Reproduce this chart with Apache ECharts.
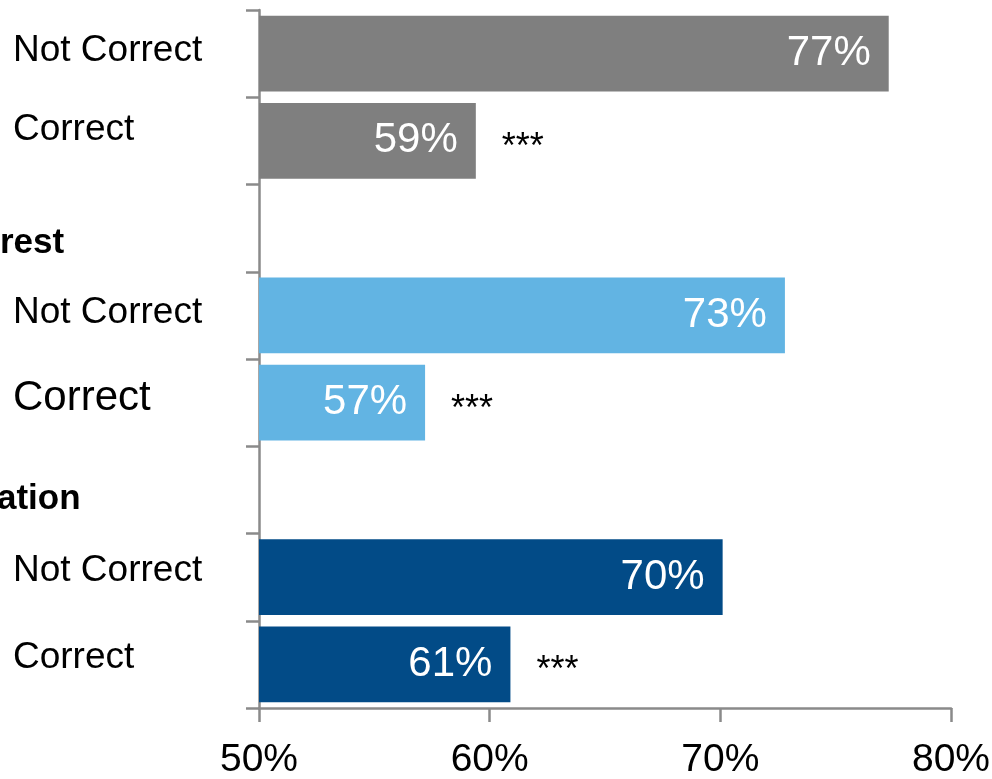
<!DOCTYPE html>
<html>
<head>
<meta charset="utf-8">
<script src="https://cdn.jsdelivr.net/npm/echarts@6/dist/echarts.min.js"></script>
<style>
  html, body { margin: 0; padding: 0; background: #fff; }
  #chart { width: 992px; height: 779px; }
</style>
</head>
<body>
<div id="chart"></div>
<script>
// ---- data ----
var categories = ['Not Correct', 'Correct', 'rest', 'Not Correct', 'Correct', 'ation', 'Not Correct', 'Correct'];
var values = [77.3, 59.4, null, 72.8, 57.2, null, 70.1, 60.9];
var significance = ['', '***', '', '', '***', '', '', '***'];
var groupOfRow = [0, 0, null, 1, 1, null, 2, 2];
var xTicks = { min: 50, max: 80, interval: 10 };

// ---- styles ----
var groupColors = ['#7f7f7f', '#62b4e3', '#024b87'];
var axisColor = '#8a8a8a';
var font = 'Liberation Sans, Arial, sans-serif';
var labelNudge = [-3, -11, 15, -3, -4, 9, -6, -7];   // vertical shift of each row label
var rowStyle = ['n', 'n', 'h1', 'n', 'big', 'h2', 'n', 'n'];

function pad(i, left) {
  var d = labelNudge[i];
  return d < 0 ? [0, 0, -2 * d, left] : [2 * d, 0, 0, left];
}
var rich = {};
categories.forEach(function (c, i) {
  var s = rowStyle[i];
  var st = { fontFamily: font, color: '#000', fontSize: 37 };
  var left = 16;
  if (s === 'big') { st.fontSize = 42; }
  if (s === 'h1') { st.fontWeight = 'bold'; st.fontSize = 35; left = 3; }
  if (s === 'h2') { st.fontWeight = 'bold'; st.fontSize = 35; left = 0; }
  st.padding = pad(i, left);
  rich['r' + i] = st;
});

var barData = values.map(function (v, i) {
  return v == null ? null : { value: v, itemStyle: { color: groupColors[groupOfRow[i]] } };
});

var chart = echarts.init(document.getElementById('chart'));
chart.setOption({
  animation: false,
  grid: { left: 259, right: 41, top: 10, bottom: 71, containLabel: false, outerBoundsMode: 'none' },
  xAxis: {
    type: 'value',
    min: xTicks.min, max: xTicks.max, interval: xTicks.interval,
    axisLine: { show: true, lineStyle: { color: axisColor, width: 2.5 } },
    axisTick: { show: true, length: 14, lineStyle: { color: axisColor, width: 2.5 } },
    splitLine: { show: false },
    axisLabel: { formatter: '{value}%', fontSize: 39, fontFamily: font, color: '#000', margin: 33 }
  },
  yAxis: {
    type: 'category',
    inverse: true,
    data: categories,
    axisLine: { show: true, lineStyle: { color: axisColor, width: 2.5 } },
    axisTick: { show: true, length: 13, lineStyle: { color: axisColor, width: 2.5 } },
    axisLabel: {
      align: 'left',
      margin: 262,
      interval: 0,
      formatter: function (v, i) { return '{r' + i + '|' + v + '}'; },
      rich: rich
    }
  },
  series: [
    {
      type: 'bar',
      data: barData,
      barCategoryGap: '13%',
      label: {
        show: true,
        position: 'insideRight',
        distance: 18,
        color: '#fff',
        fontSize: 42,
        fontFamily: font,
        formatter: function (p) { return Math.round(p.value) + '%'; }
      }
    },
    {
      type: 'bar',
      data: values,
      barGap: '-100%',
      barCategoryGap: '13%',
      itemStyle: { color: 'rgba(0,0,0,0)' },
      silent: true,
      label: {
        show: true,
        position: 'right',
        distance: 26,
        offset: [0, 7],
        color: '#000',
        fontSize: 36,
        fontFamily: font,
        formatter: function (p) { return significance[p.dataIndex]; }
      }
    }
  ]
});
</script>
</body>
</html>
